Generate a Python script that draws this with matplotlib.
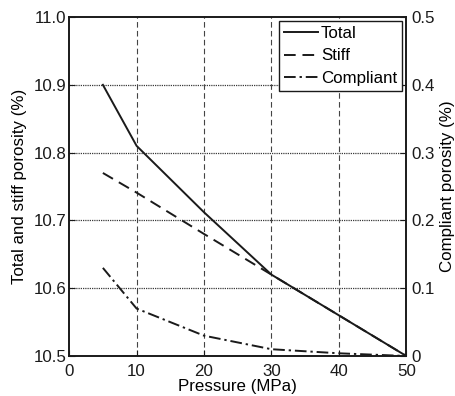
import matplotlib
matplotlib.use("Agg")
import matplotlib.pyplot as plt
from matplotlib.ticker import FixedLocator, FuncFormatter

plt.rcParams["font.family"] = ["Liberation Sans", "DejaVu Sans"]
FS = 12.2

pressure = [5, 10, 20, 30, 40, 50]
total = [10.90, 10.81, 10.712, 10.62, 10.56, 10.50]
stiff = [10.77, 10.741, 10.68, 10.62, 10.56, 10.50]
compliant = [0.13, 0.07, 0.03, 0.01, 0.004, 0.0]

x_ticks = [0, 10, 20, 30, 40, 50]
left_ticks = [10.5, 10.6, 10.7, 10.8, 10.9, 11.0]
right_ticks = [0, 0.1, 0.2, 0.3, 0.4, 0.5]

fig = plt.figure(figsize=(4.55, 3.96), dpi=100)
ax = fig.add_axes([0.152, 0.101, 0.741, 0.856])
ax2 = ax.twinx()

l1, = ax.plot(pressure, total, color="#1a1a1a", lw=1.4, ls="-", label="Total")
l2, = ax.plot(pressure, stiff, color="#1a1a1a", lw=1.4, ls=(0, (6, 3.5)), label="Stiff")
l3, = ax2.plot(pressure, compliant, color="#1a1a1a", lw=1.4, ls=(0, (6, 2, 1.2, 2)),
               label="Compliant")

ax.set_xlim(0, 50)
ax.set_ylim(10.5, 11.0)
ax2.set_ylim(0, 0.5)
ax.xaxis.set_major_locator(FixedLocator(x_ticks))
ax.yaxis.set_major_locator(FixedLocator(left_ticks))
ax2.yaxis.set_major_locator(FixedLocator(right_ticks))
ax.yaxis.set_major_formatter(FuncFormatter(lambda v, p: f"{v:.1f}"))
ax2.yaxis.set_major_formatter(FuncFormatter(lambda v, p: "0" if v == 0 else f"{v:.1f}"))

# horizontal grid: fine dotted, vertical grid: dashed
for yv in left_ticks[1:-1]:
    ax.axhline(yv, color="#3a3a3a", lw=0.9, ls=(0, (1, 0.8)), zorder=0)
for xv in x_ticks[1:-1]:
    ax.axvline(xv, color="#444444", lw=0.8, ls=(0, (5, 3)), zorder=0)

for a in (ax, ax2):
    a.tick_params(direction="in", length=4, width=0.8, colors="#1a1a1a", labelsize=FS)
    for s in a.spines.values():
        s.set_linewidth(1.2)
        s.set_color("#1a1a1a")
ax.tick_params(axis="x", pad=5.5)
ax.tick_params(axis="y", pad=2)
ax2.tick_params(axis="y", pad=3.5)

ax.set_xlabel("Pressure (MPa)", fontsize=FS, labelpad=0)
ax.set_ylabel("Total and stiff porosity (%)", fontsize=FS, labelpad=5)
ax2.set_ylabel("Compliant porosity (%)", fontsize=FS, labelpad=4)

leg = ax2.legend(handles=[l1, l2, l3], loc="upper right", fontsize=FS,
                 frameon=True, fancybox=False, framealpha=1, edgecolor="#1a1a1a",
                 borderaxespad=0.25, handlelength=2.0, handletextpad=0.15,
                 labelspacing=0.42, borderpad=0.3)
leg.get_frame().set_linewidth(1.0)

fig.savefig("out.png", dpi=100)
